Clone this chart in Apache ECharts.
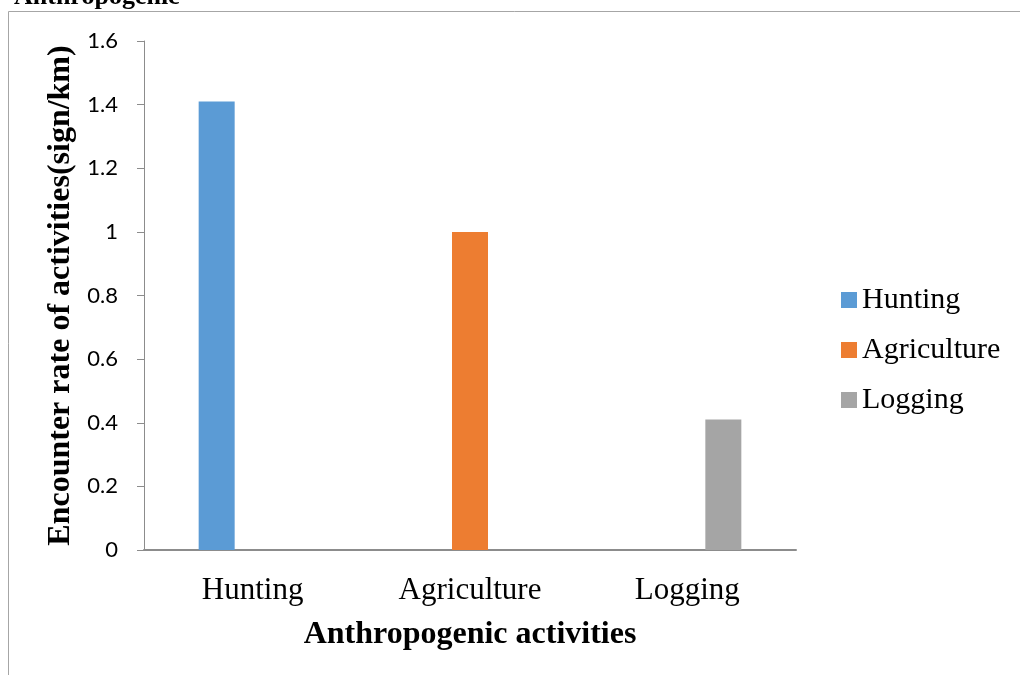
<!DOCTYPE html>
<html>
<head>
<meta charset="utf-8">
<script src="https://cdn.jsdelivr.net/npm/echarts@6/dist/echarts.min.js"></script>
<style>
  html, body { margin: 0; padding: 0; background: #ffffff; }
  #chart { width: 1020px; height: 675px; }
</style>
</head>
<body>
<div id="chart"></div>
<script>
// Encounter rate of anthropogenic activity signs along transects
const categories = ['Hunting', 'Agriculture', 'Logging'];
const seriesNames = ['Hunting', 'Agriculture', 'Logging'];
const encounterRates = [1.41, 1.0, 0.41];
const seriesColors = ['#5B9BD5', '#ED7D31', '#A5A5A5'];
const yAxisTitle = 'Encounter rate of activities(sign/km)';
const xAxisTitle = 'Anthropogenic activities';
const captionText = 'Anthropogenic';

const serif = '"Liberation Serif", "Times New Roman", serif';
const sans = 'Lato, "Open Sans", sans-serif';

// one series per activity; each has a value only in its own category
const series = seriesNames.map((name, i) => ({
  name: name,
  type: 'bar',
  barWidth: 36,
  barGap: '0%',
  itemStyle: { color: seriesColors[i] },
  data: categories.map((c, j) => (j === i ? encounterRates[i] : null))
}));

const chart = echarts.init(document.getElementById('chart'), null, { renderer: 'canvas' });
chart.setOption({
  backgroundColor: '#ffffff',
  animation: false,
  graphic: [
    {
      type: 'polyline',
      shape: { points: [[8.5, 675], [8.5, 11.5], [1020, 11.5]] },
      style: { stroke: '#a6a6a6', lineWidth: 1, fill: null },
      silent: true
    },
    {
      type: 'text',
      left: 14,
      top: -16,
      style: {
        text: captionText,
        font: 'bold 26px ' + serif,
        fill: '#000000'
      },
      silent: true
    }
  ],
  grid: { left: 144, right: 224, top: 41, bottom: 125, containLabel: false },
  legend: {
    orient: 'vertical',
    left: 836,
    top: 280,
    itemWidth: 16,
    itemHeight: 16,
    itemGap: 20,
    icon: 'rect',
    textStyle: { fontFamily: serif, fontSize: 30, color: '#000000', lineHeight: 30 },
    data: seriesNames
  },
  xAxis: {
    type: 'category',
    data: categories,
    name: xAxisTitle,
    nameLocation: 'middle',
    nameGap: 69,
    nameTextStyle: { fontFamily: serif, fontSize: 32, fontWeight: 'bold', color: '#000000' },
    axisLine: { lineStyle: { color: '#8c8c8c', width: 2 } },
    axisTick: { show: false },
    axisLabel: { fontFamily: serif, fontSize: 31, color: '#000000', margin: 25 },
    splitLine: { show: false }
  },
  yAxis: {
    type: 'value',
    min: 0,
    max: 1.6,
    interval: 0.2,
    name: yAxisTitle,
    nameLocation: 'middle',
    nameGap: 65,
    nameRotate: 90,
    nameTextStyle: { fontFamily: serif, fontSize: 32, fontWeight: 'bold', color: '#000000' },
    axisLine: { show: true, lineStyle: { color: '#8c8c8c', width: 1 } },
    axisTick: { show: true, inside: false, length: 7, lineStyle: { color: '#8c8c8c' } },
    axisLabel: { fontFamily: sans, fontSize: 22, color: '#000000', margin: 26 },
    splitLine: { show: false }
  },
  series: series
});
</script>
</body>
</html>
